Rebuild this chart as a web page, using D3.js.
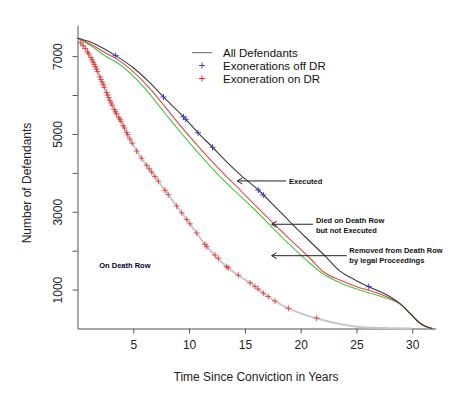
<!DOCTYPE html>
<html>
<head>
<meta charset="utf-8">
<script src="https://cdn.jsdelivr.net/npm/d3@7"></script>
<style>
  body { margin: 0; background: #fff; }
  svg { display: block; font-family: "Liberation Sans", Arial, sans-serif; }
</style>
</head>
<body>
<div class="chart"></div>
<script>
// curves: [years since conviction, defendants]
const allDefendants = [[0,7460],[1,7380],[2,7250],[3.42,7013],[5,6700],[6.5,6310],[7.7,5950],[9.5,5440],[10.8,5030],[12.1,4658],[13.3,4300],[14.6,3946],[16.2,3560],[17.85,3090],[19.04,2740],[20.6,2300],[22.2,1860],[23.5,1480],[25.0,1230],[26.1,1075],[27.1,950],[28.0,818],[28.9,640],[29.8,390],[30.7,134],[31.4,30],[31.8,0]]
const diedOnRow = [[0,7460],[1,7330],[2.67,7056],[3.5,6930],[5.96,6330],[7.84,5700],[9.19,5220],[10.98,4632],[12.77,4075],[14.56,3560],[16.2,3090],[19.04,2293],[20.83,1805],[22.03,1460],[23.52,1247],[25.02,1075],[26.5,946],[27.7,818],[28.3,733],[28.9,640],[29.8,385],[30.7,130],[31.4,28],[31.8,0]]
const removedLegal = [[0,7460],[1.1,7288],[2.67,6972],[3.5,6843],[5.96,6200],[7.84,5532],[9.19,5059],[10.98,4460],[12.77,3902],[15.75,3090],[19.04,2147],[20.83,1676],[22.03,1401],[23.52,1178],[25.02,1015],[26.5,887],[27.7,776],[28.6,680],[29.2,560],[29.9,360],[30.8,120],[31.5,20],[32,0]]
const onDeathRow = [[0,7460],[0.13,7400],[0.73,7185],[1.18,6972],[1.63,6715],[2.08,6414],[2.53,6113],[2.97,5815],[3.42,5558],[3.87,5342],[4.32,5085],[4.77,4828],[5.3,4560],[6.5,4075],[8.0,3490],[9.48,2918],[10.08,2690],[11.58,2103],[13.37,1589],[14.5,1350],[15.75,1118],[16.6,920],[17.54,733],[18.9,519],[20.0,390],[21.43,265],[23.2,134],[25.0,46],[26.5,18],[28,8],[30,0]]

// times of the exoneration marks
const exonOnDR = [0.3,0.5,0.7,0.9,1.0,1.2,1.3,1.4,1.5,1.6,1.7,1.8,2.0,2.1,2.2,2.3,2.4,2.6,2.7,2.8,2.9,3.0,3.1,3.3,3.4,3.5,3.7,3.8,3.9,4.1,4.2,4.4,4.5,4.7,4.9,5.3,5.75,6.2,6.43,6.65,6.94,7.24,7.84,8.13,8.89,9.34,9.79,10.08,10.68,11.42,11.58,12.32,12.62,13.37,13.51,14.41,15.46,15.9,16.2,16.65,17.1,17.7,18.9,21.43]
const exonOffDR = [3.42,7.7,9.5,9.7,10.8,12.1,16.2,16.65,26.1]

const xTicks = [5,10,15,20,25,30]
const yTicks = [1000,2000,3000,4000,5000,6000,7000]

const w = 455, h = 398

const svg = d3.select('.chart')
              .append('svg')
              .attr('width', w)
              .attr('height', h)

const x = d3.scaleLinear().domain([0, 32.1]).range([77.5, 435.7])
const y = d3.scaleLinear().domain([0, 7800]).range([328.5, 25])

const xAxis = d3.axisBottom(x).tickValues(xTicks).tickSize(5).tickSizeOuter(0)
const yAxis = d3.axisLeft(y).tickValues(yTicks).tickSize(5).tickSizeOuter(0)
                .tickFormat(d => d % 2000 === 1000 ? d : '')

const gx = svg.append('g').attr('transform', `translate(0,${y(0)})`).call(xAxis)
gx.selectAll('text').attr('y', 12.3).attr('font-size', 12).attr('fill', '#222')

const gy = svg.append('g').attr('transform', `translate(${x(0)},0)`).call(yAxis)
gy.selectAll('text')
  .attr('x', null).attr('dy', null)
  .attr('transform', 'translate(-16,0) rotate(-90)')
  .attr('text-anchor', 'middle')
  .attr('font-size', 12).attr('fill', '#222')

svg.selectAll('.domain, .tick line').attr('stroke', '#555')

svg.append('text')
   .attr('x', 256).attr('y', 381)
   .attr('text-anchor', 'middle').attr('font-size', 12).attr('fill', '#222')
   .text('Time Since Conviction in Years')

svg.append('text')
   .attr('transform', 'translate(30.5,183) rotate(-90)')
   .attr('text-anchor', 'middle').attr('font-size', 12).attr('fill', '#222')
   .text('Number of Defendants')

const line = d3.line().x(d => x(d[0])).y(d => y(d[1])).curve(d3.curveMonotoneX)

svg.append('path').datum(onDeathRow).attr('d', line)
   .attr('fill', 'none').attr('stroke', '#c8c8c8').attr('stroke-width', 2)
svg.append('path').datum(removedLegal).attr('d', line)
   .attr('fill', 'none').attr('stroke', '#4cc44c').attr('stroke-width', 1.1)
svg.append('path').datum(diedOnRow).attr('d', line)
   .attr('fill', 'none').attr('stroke', '#e04848').attr('stroke-width', 1.1)
svg.append('path').datum(allDefendants).attr('d', line)
   .attr('fill', 'none').attr('stroke', '#3a3a3a').attr('stroke-width', 1.1)

// value of a curve at time t (linear between read points)
const valueAt = (curve, t) => {
  const i = d3.bisector(d => d[0]).right(curve, t)
  const a = curve[Math.max(0, i-1)], b = curve[Math.min(curve.length-1, i)]
  if (a[0] === b[0]) return a[1]
  return a[1] + (b[1]-a[1]) * (t-a[0]) / (b[0]-a[0])
}

const plus = 'M-3,0H3M0,-3V3'

svg.selectAll('.onMark')
   .data(exonOnDR)
   .enter()
   .append('path')
   .attr('class', 'onMark')
   .attr('d', plus)
   .attr('transform', d => `translate(${x(d)},${y(valueAt(onDeathRow, d))})`)
   .attr('stroke', '#e02828').attr('stroke-opacity', 0.75).attr('stroke-width', 1)

svg.selectAll('.offMark')
   .data(exonOffDR)
   .enter()
   .append('path')
   .attr('class', 'offMark')
   .attr('d', plus)
   .attr('transform', d => `translate(${x(d)},${y(valueAt(allDefendants, d))})`)
   .attr('stroke', '#3c3cd8').attr('stroke-width', 1)

// legend
const legend = svg.append('g').attr('font-size', 11.5).attr('fill', '#111')
legend.append('line').attr('x1', 192).attr('x2', 212).attr('y1', 52.7).attr('y2', 52.7)
      .attr('stroke', '#666').attr('stroke-width', 1)
legend.append('path').attr('d', plus).attr('transform', 'translate(202,65.5)').attr('stroke', '#3c3cd8')
legend.append('path').attr('d', plus).attr('transform', 'translate(202,78.5)').attr('stroke', '#e02828')
legend.append('text').attr('x', 223).attr('y', 56.8).text('All Defendants')
legend.append('text').attr('x', 223).attr('y', 69.6).text('Exonerations off DR')
legend.append('text').attr('x', 223).attr('y', 82.6).text('Exoneration on DR')

// annotations
const arrow = (t0, t1, v) => {
  const g = svg.append('g').attr('stroke', '#222').attr('stroke-width', 1).attr('fill', 'none')
  g.append('line').attr('x1', x(t0)).attr('x2', x(t1)).attr('y1', y(v)).attr('y2', y(v))
  g.append('path').attr('d', `M${x(t1)+5},${y(v)-3}L${x(t1)},${y(v)}L${x(t1)+5},${y(v)+3}`)
}
const note = (t, v, lines, color) => {
  const tx = svg.append('text').attr('font-size', 7.5).attr('font-weight', 'bold').attr('fill', color || '#111')
  lines.forEach((s, i) => tx.append('tspan').attr('x', x(t)).attr('y', y(v) + 3 + i*10).text(s))
}

arrow(18.68, 14.32, 3792)
note(18.95, 3792, ['Executed'])
arrow(21.1, 17.4, 2679)
note(21.37, 2789, ['Died on Death Row', 'but not Executed'])
arrow(24.12, 17.4, 1871)
note(24.36, 2018, ['Removed from Death Row', 'by legal Proceedings'])
note(1.95, 1632, ['On Death Row'], '#000033')
</script>
</body>
</html>
